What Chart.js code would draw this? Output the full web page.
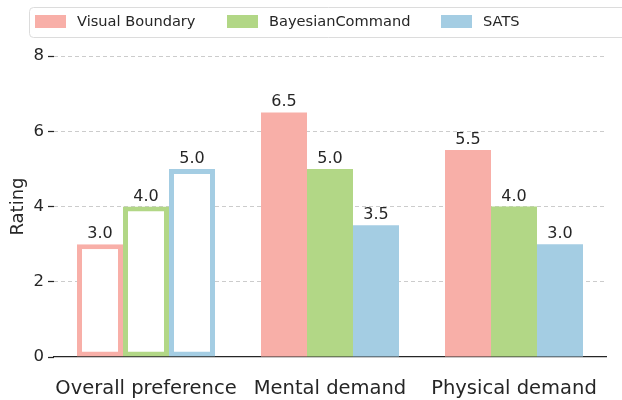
<!DOCTYPE html>
<html>
<head>
<meta charset="utf-8">
<script src="https://cdn.jsdelivr.net/npm/chart.js@4/dist/chart.umd.min.js"></script>
<style>
  html, body { margin: 0; padding: 0; background: #fff; overflow: hidden; }
  #wrap { width: 622px; height: 400px; }
</style>
</head>
<body>
<div id="wrap"><canvas id="myBarChart" width="622" height="400"></canvas></div>
<script>
var categories = ['Overall preference', 'Mental demand', 'Physical demand'];
var seriesNames = ['Visual Boundary', 'BayesianCommand', 'SATS'];
var visualBoundary = [3.0, 6.5, 5.5];
var bayesianCommand = [4.0, 5.0, 4.0];
var sats = [5.0, 3.5, 3.0];
var yTicks = [0, 2, 4, 6, 8];

var colors = ['#F8AFA8', '#B2D786', '#A4CDE3']; // 粉 绿 蓝
var textColor = '#262626';
var font = 'DejaVu Sans';

function makeDataset(i, values) {
    return {
        label: seriesNames[i],
        data: values,
        backgroundColor: ['#ffffff', colors[i], colors[i]], // 第一组是空心柱
        borderColor: colors[i],
        borderWidth: [5, 0, 0],
        borderSkipped: false
    };
}

// 柱顶数值
var valueLabels = {
    id: 'valueLabels',
    afterDatasetsDraw: function(chart) {
        var ctx = chart.ctx;
        ctx.save();
        ctx.font = '16px "' + font + '"';
        ctx.fillStyle = textColor;
        ctx.textAlign = 'center';
        ctx.textBaseline = 'alphabetic';
        chart.data.datasets.forEach(function(ds, i) {
            chart.getDatasetMeta(i).data.forEach(function(bar, j) {
                ctx.fillText(ds.data[j].toFixed(1), bar.x, bar.y - 6);
            });
        });
        ctx.restore();
    }
};

// 顶部图例（带边框，右侧被裁掉）
var frameLegend = {
    id: 'frameLegend',
    afterDraw: function(chart) {
        var ctx = chart.ctx;
        ctx.save();
        ctx.beginPath();
        ctx.roundRect(29.5, 7.5, 640, 30, 4);
        ctx.fillStyle = '#ffffff';
        ctx.fill();
        ctx.strokeStyle = '#dcdcdc';
        ctx.lineWidth = 1;
        ctx.stroke();
        var boxX = [35, 227, 441];
        ctx.font = '14.6px "' + font + '"';
        ctx.textBaseline = 'middle';
        chart.data.datasets.forEach(function(ds, i) {
            ctx.fillStyle = colors[i];
            ctx.fillRect(boxX[i], 15, 31, 13);
            ctx.fillStyle = textColor;
            ctx.fillText(ds.label, boxX[i] + 42, 22);
        });
        ctx.restore();
    }
};

var ctx = document.getElementById('myBarChart').getContext('2d');
var myBarChart = new Chart(ctx, {
    type: 'bar',
    data: {
        labels: categories,
        datasets: [
            makeDataset(0, visualBoundary),
            makeDataset(1, bayesianCommand),
            makeDataset(2, sats)
        ]
    },
    options: {
        responsive: false,
        animation: false,
        devicePixelRatio: 1,
        categoryPercentage: 0.75,
        barPercentage: 1.0,
        layout: { padding: { top: 56, right: 16, bottom: 0, left: 0 } },
        plugins: {
            legend: { display: false },
            tooltip: { enabled: false }
        },
        scales: {
            x: {
                grid: { display: false },
                border: { display: true, color: '#262626', width: 1.25 },
                ticks: {
                    color: textColor,
                    font: { family: font, size: 19.5 },
                    padding: 12,
                    autoSkip: false,
                    maxRotation: 0,
                    minRotation: 0
                },
                afterFit: function(scale) {
                    scale.height = 43;
                    scale.paddingLeft = 0;
                    scale.paddingRight = 0;
                }
            },
            y: {
                min: 0,
                max: 8,
                afterBuildTicks: function(scale) {
                    scale.ticks = yTicks.map(function(v) { return { value: v }; });
                },
                border: { display: false, dash: [4, 3] },
                grid: {
                    color: function(c) { return c.tick && c.tick.value === 0 ? 'rgba(0,0,0,0)' : '#cccccc'; },
                    lineWidth: 1,
                    tickColor: '#262626',
                    tickLength: 6,
                    tickBorderDash: [],
                    tickWidth: 1.25
                },
                ticks: {
                    color: textColor,
                    font: { family: font, size: 16.5 },
                    padding: 4
                },
                title: {
                    display: true,
                    text: 'Rating',
                    color: textColor,
                    font: { family: font, size: 18 },
                    padding: { top: 8, bottom: 0 }
                },
                afterFit: function(scale) {
                    scale.width = 54;
                    scale.paddingTop = 0;
                    scale.paddingBottom = 0;
                }
            }
        }
    },
    plugins: [valueLabels, frameLegend]
});
</script>
</body>
</html>
